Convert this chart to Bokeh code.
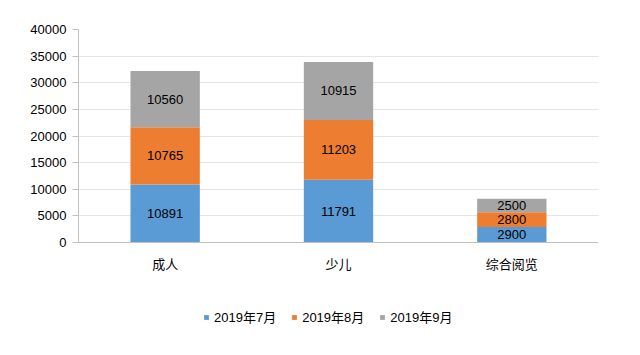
import numpy as np
from bokeh.plotting import figure
from bokeh.layouts import column
from bokeh.models import ColumnDataSource, FactorRange, Range1d, Legend, LegendItem, FixedTicker
from bokeh.core.properties import value
from bokeh.embed import file_html
from bokeh.resources import INLINE

categories = ["成人", "少儿", "综合阅览"]
series_names = ["2019年7月", "2019年8月", "2019年9月"]
jul = [10891, 11791, 2900]
aug = [10765, 11203, 2800]
sep = [10560, 10915, 2500]
y_ticks = [0, 5000, 10000, 15000, 20000, 25000, 30000, 35000, 40000]
colors = ["#5B9BD5", "#ED7D31", "#A5A5A5"]

FONT = "Liberation Sans, Noto Sans CJK SC"

src = ColumnDataSource(dict(cat=categories, s0=jul, s1=aug, s2=sep))

p = figure(width=640, height=290, x_range=FactorRange(*categories, range_padding=0),
           y_range=Range1d(0, 40000), output_backend="svg", toolbar_location=None,
           min_border_left=78, min_border_right=42, min_border_top=29, min_border_bottom=48)
p.outline_line_color = None

renderers = p.vbar_stack(["s0", "s1", "s2"], x="cat", width=0.4, color=colors, source=src,
                         line_color=None)

vals = np.array([jul, aug, sep], dtype=float)
cum = np.cumsum(vals, axis=0)
mids = cum - vals / 2
for i in range(3):
    lsrc = ColumnDataSource(dict(x=categories, y=list(mids[i]), t=[str(v) for v in vals[i].astype(int)]))
    p.text(x="x", y="y", text="t", source=lsrc, text_align="center", text_baseline="middle",
           text_font=value(FONT), text_font_size="13px", text_color="#000000")

p.yaxis.ticker = FixedTicker(ticks=y_ticks)
p.yaxis.major_label_text_font = FONT
p.yaxis.major_label_text_font_size = "13px"
p.yaxis.major_label_text_color = "#000000"
p.yaxis.axis_line_color = "#bfbfbf"
p.yaxis.major_tick_line_color = "#bfbfbf"
p.yaxis.major_tick_out = 6
p.yaxis.major_tick_in = 0
p.yaxis.minor_tick_line_color = None
p.yaxis.major_label_standoff = 6

p.xaxis.axis_line_color = "#bfbfbf"
p.xaxis.major_tick_line_color = None
p.xaxis.minor_tick_line_color = None
p.xaxis.major_label_text_font = FONT
p.xaxis.major_label_text_font_size = "13px"
p.xaxis.major_label_text_color = "#000000"
p.xaxis.major_label_standoff = 8

p.xgrid.grid_line_color = None
p.ygrid.grid_line_color = "#e4e4e4"

# legend strip
lf = figure(width=640, height=65, x_range=Range1d(0, 1), y_range=Range1d(0, 1),
            output_backend="svg", toolbar_location=None,
            min_border_left=0, min_border_right=0, min_border_top=0, min_border_bottom=0)
lf.axis.visible = False
lf.grid.grid_line_color = None
lf.outline_line_color = None
lrs = [lf.vbar(x=[-5], top=[-5], bottom=[-6], width=0.1, color=colors[i], line_color=None)
       for i in range(3)]
items = [LegendItem(label=series_names[i], renderers=[lrs[i]]) for i in range(3)]
legend = Legend(items=items, orientation="horizontal", location=(125, 29),
                label_text_font=FONT, label_text_font_size="13px", label_text_color="#000000",
                glyph_width=6, glyph_height=6, spacing=15, label_standoff=5,
                border_line_color=None, background_fill_alpha=0, margin=0, padding=0)
lf.add_layout(legend, "center")

layout = column(p, lf, spacing=0)
open("out.html", "w").write(file_html(layout, INLINE))
